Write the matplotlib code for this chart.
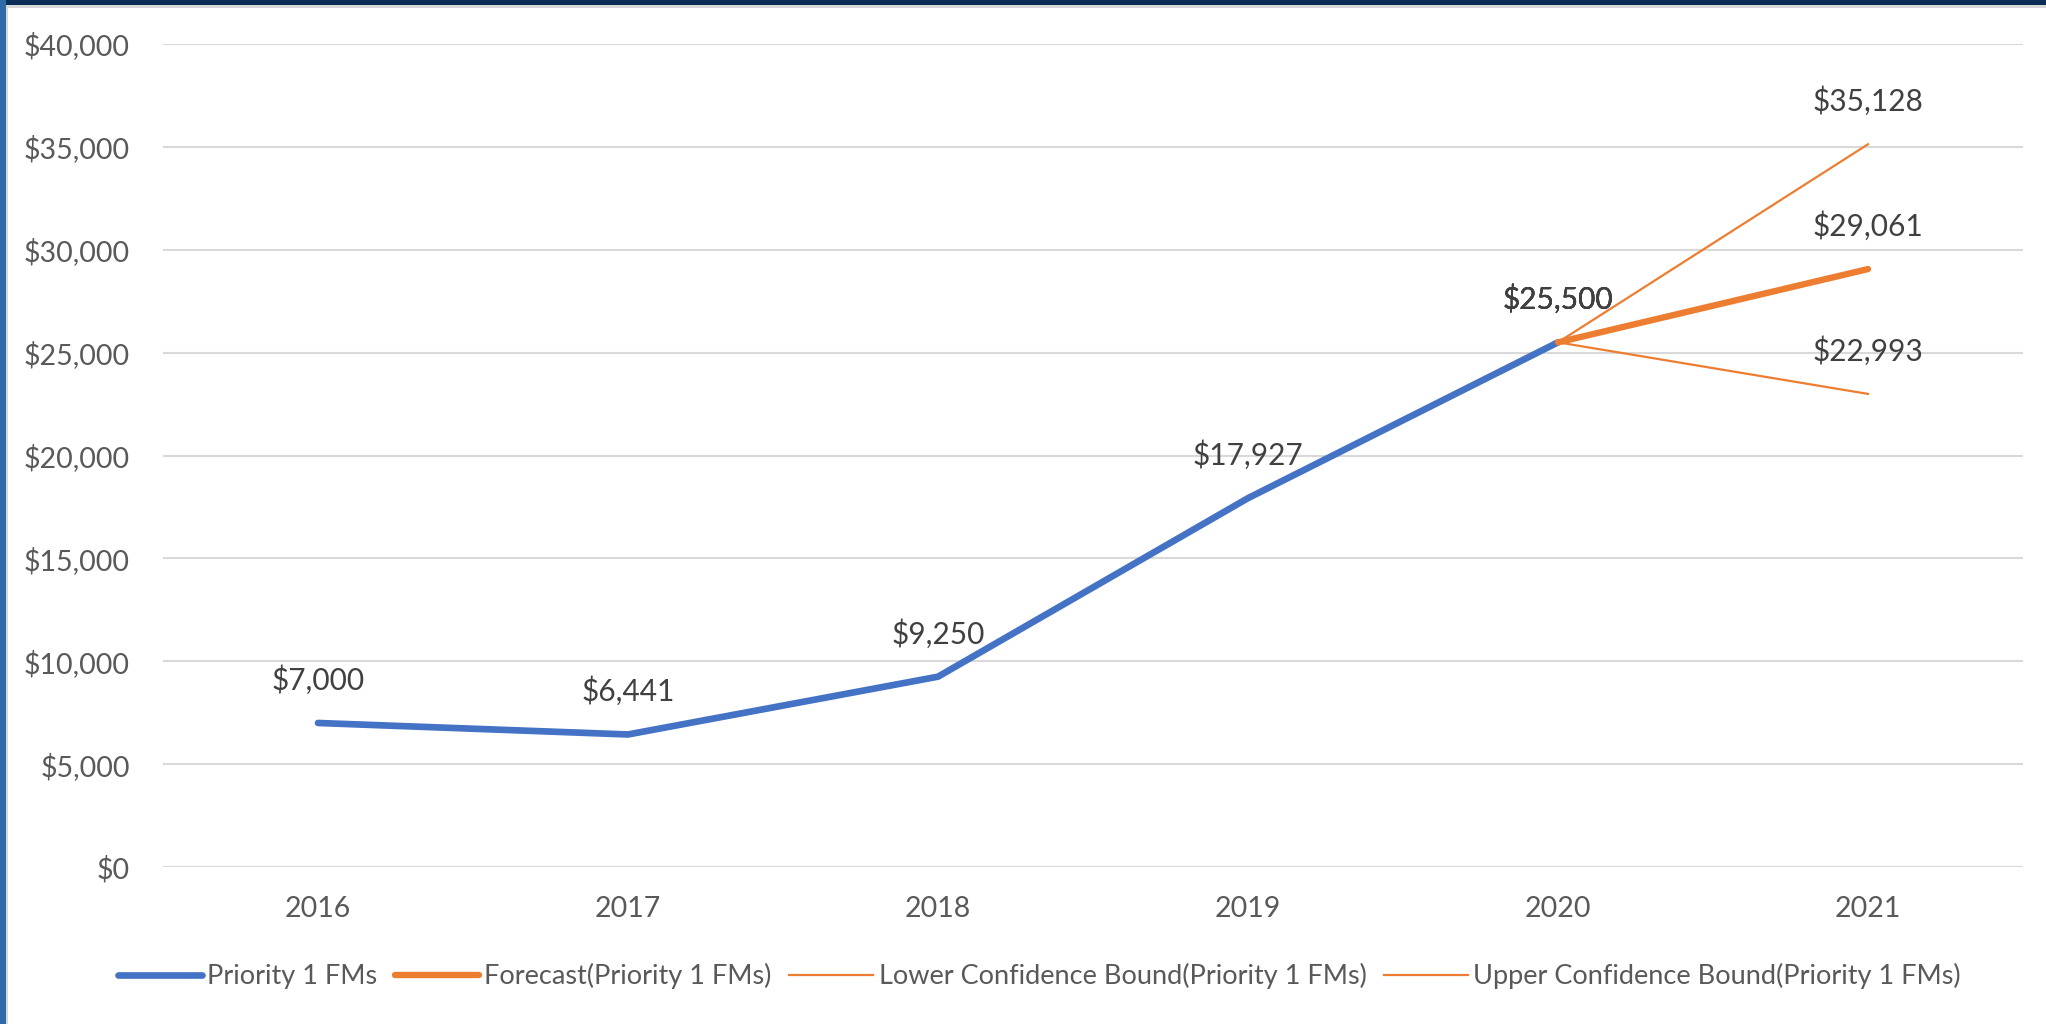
import matplotlib
matplotlib.use("Agg")
import matplotlib.pyplot as plt
from matplotlib.patches import Rectangle
from matplotlib.ticker import FuncFormatter, MultipleLocator

years = ["2016", "2017", "2018", "2019", "2020", "2021"]
actual = [7000, 6441, 9250, 17927, 25500]
forecast = [25500, 29061]
lower_bound = [25500, 22993]
upper_bound = [25500, 35128]

blue = "#4472C4"
orange = "#ED7D31"

plt.rcParams["font.family"] = ["Lato", "DejaVu Sans"]

fig = plt.figure(figsize=(20.46, 10.24), dpi=100)
fig.patch.set_facecolor("white")

# window chrome left over from the screenshot
fig.patches.append(Rectangle((0, 1 - 5 / 1024), 1, 5 / 1024, transform=fig.transFigure,
                             facecolor="#0b2d57", edgecolor="none", zorder=0))
fig.patches.append(Rectangle((0, 1 - 8 / 1024), 1, 3 / 1024, transform=fig.transFigure,
                             facecolor="#d8d8d8", edgecolor="none", zorder=0))
fig.patches.append(Rectangle((0, 0), 6 / 2046, 1, transform=fig.transFigure,
                             facecolor="#2d6aa6", edgecolor="none", zorder=0))
fig.patches.append(Rectangle((6 / 2046, 0), 2 / 2046, 1 - 8 / 1024, transform=fig.transFigure,
                             facecolor="#d8d8d8", edgecolor="none", zorder=0))

ax = fig.add_axes([163 / 2046, 157 / 1024, 1860 / 2046, 823 / 1024])

x_act = list(range(len(actual)))
x_fc = [4, 5]

ax.plot(x_act, actual, color=blue, lw=4.8, solid_capstyle="round", label="Priority 1 FMs", zorder=3)
ax.plot(x_fc, forecast, color=orange, lw=4.6, solid_capstyle="round", label="Forecast(Priority 1 FMs)", zorder=4)
ax.plot(x_fc, lower_bound, color=orange, lw=1.6, label="Lower Confidence Bound(Priority 1 FMs)", zorder=4)
ax.plot(x_fc, upper_bound, color=orange, lw=1.6, label="Upper Confidence Bound(Priority 1 FMs)", zorder=4)

label_kw = dict(textcoords="offset points", xytext=(0, 31), ha="center", va="center",
                fontsize=21.5, color="#404040", zorder=5)
for series, xs in [(actual, x_act), (forecast, x_fc), (lower_bound, x_fc), (upper_bound, x_fc)]:
    for xi, v in zip(xs, series):
        ax.annotate(f"${v:,.0f}", (xi, v), **label_kw)

ax.set_xlim(-0.5, 5.5)
ax.set_ylim(0, 40000)
ax.set_xticks(range(len(years)))
ax.set_xticklabels(years)
ax.yaxis.set_major_locator(MultipleLocator(5000))
ax.yaxis.set_major_formatter(FuncFormatter(lambda v, p: f"${v:,.0f}"))
ax.tick_params(axis="both", length=0, labelsize=20.5, colors="#595959")
ax.tick_params(axis="y", pad=24)
ax.tick_params(axis="x", pad=21)
ax.grid(axis="y", color="#d9d9d9", lw=1.5)
ax.set_axisbelow(True)
for s in ax.spines.values():
    s.set_visible(False)

fig.legend(loc="center", bbox_to_anchor=(0.508, 48 / 1024), ncol=4, frameon=False,
           fontsize=19.5, labelcolor="#595959", handlelength=3.1, handletextpad=0.2,
           columnspacing=0.65)

fig.savefig("out.png", dpi=100, facecolor="white")
